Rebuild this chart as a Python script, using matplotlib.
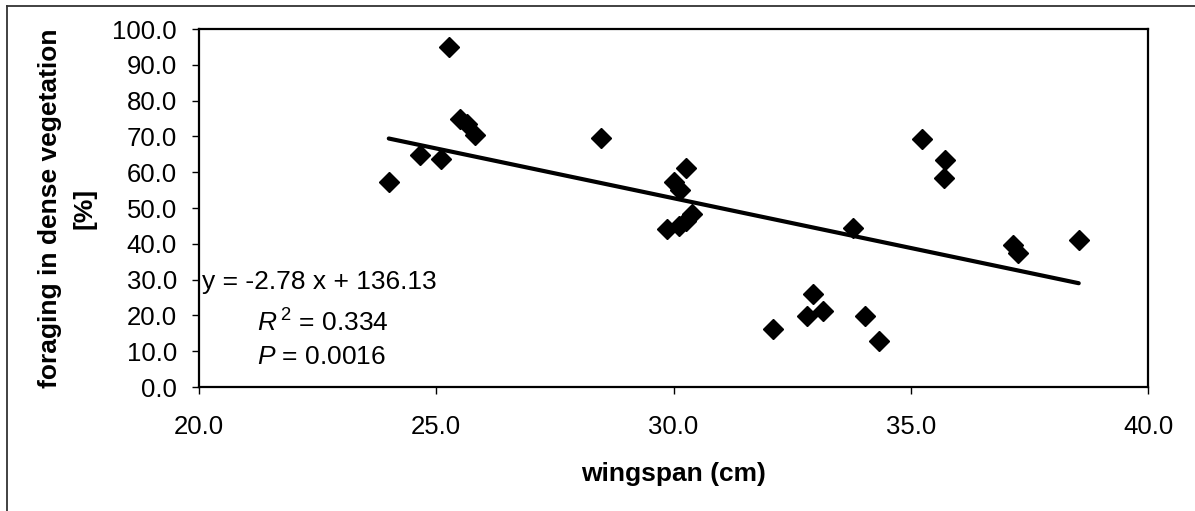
import numpy as np
import matplotlib.pyplot as plt
from matplotlib.lines import Line2D

plt.rcParams['font.family'] = ['Liberation Sans', 'DejaVu Sans']
plt.rcParams['mathtext.fontset'] = 'custom'
plt.rcParams['mathtext.rm'] = 'Liberation Sans'
plt.rcParams['mathtext.it'] = 'Liberation Sans:italic'

# wingspan (cm) vs share of foraging in dense vegetation (%)
wingspan = [24.0, 24.65, 25.1, 25.27, 25.5, 25.65, 25.82, 28.47,
            30.26, 30.0, 30.14, 29.86, 30.12, 30.26, 30.38,
            33.79, 32.93, 32.82, 33.16, 32.1, 34.04, 34.34,
            35.23, 35.72, 35.7, 37.16, 37.25, 38.54]
foraging = [57.2, 64.8, 63.8, 95.0, 75.0, 73.6, 70.3, 69.6,
            61.3, 57.2, 55.0, 44.2, 45.0, 46.5, 48.3,
            44.3, 26.1, 19.9, 21.3, 16.2, 19.9, 12.9,
            69.4, 63.3, 58.3, 39.6, 37.3, 41.1]

# regression reported on the chart
slope = -2.78
intercept = 136.13
r_squared = 0.334
p_value = 0.0016

xticks = [20.0, 25.0, 30.0, 35.0, 40.0]
yticks = np.arange(0, 101, 10)

W, H = 1195, 511
fig = plt.figure(figsize=(W / 100, H / 100), dpi=100)
ax = fig.add_axes([199 / W, (H - 387) / H, (1148 - 199) / W, (387 - 29) / H])

ax.plot(wingspan, foraging, 'D', color='black', markersize=10.5, zorder=3)

fit_x = np.array([min(wingspan), max(wingspan)])
ax.plot(fit_x, slope * fit_x + intercept, color='black', lw=3.0,
        solid_capstyle='round', zorder=2)

ax.set_xlim(20, 40)
ax.set_ylim(0, 100)
ax.set_xticks(xticks)
ax.set_xticklabels([f"{v:.1f}" for v in xticks])
ax.set_yticks(yticks)
ax.set_yticklabels([f"{v:.1f}" for v in yticks])
ax.tick_params(direction='out', length=5, width=1, labelsize=18.5,
               color='black')
ax.tick_params(axis='y', pad=11)
ax.tick_params(axis='x', pad=15)
for sp in ax.spines.values():
    sp.set_linewidth(1.6)

ax.set_xlabel("wingspan (cm)", fontsize=19, fontweight='bold', labelpad=17)
ax.set_ylabel("foraging in dense vegetation\n[%]", fontsize=19,
              fontweight='bold', labelpad=11, linespacing=1.55)

ax.text(0.003, 0.293, f"y = {slope:.2f} x + {intercept:.2f}",
        transform=ax.transAxes, fontsize=19, va='center', ha='left')
ax.text(0.061, 0.179, r"$\it{R}^{\,2}$" + f" = {r_squared:.3f}",
        transform=ax.transAxes, fontsize=19, va='center', ha='left')
ax.text(0.061, 0.084, r"$\it{P}$" + f" = {p_value:.4f}",
        transform=ax.transAxes, fontsize=19, va='center', ha='left')

# chart area frame (left and top edges)
fig.add_artist(Line2D([7 / W, 7 / W], [0, 1 - 6 / H], color='#333333', lw=1.3))
fig.add_artist(Line2D([7 / W, 1], [1 - 6 / H, 1 - 6 / H], color='#333333', lw=1.3))

fig.savefig("out.png", dpi=100)
